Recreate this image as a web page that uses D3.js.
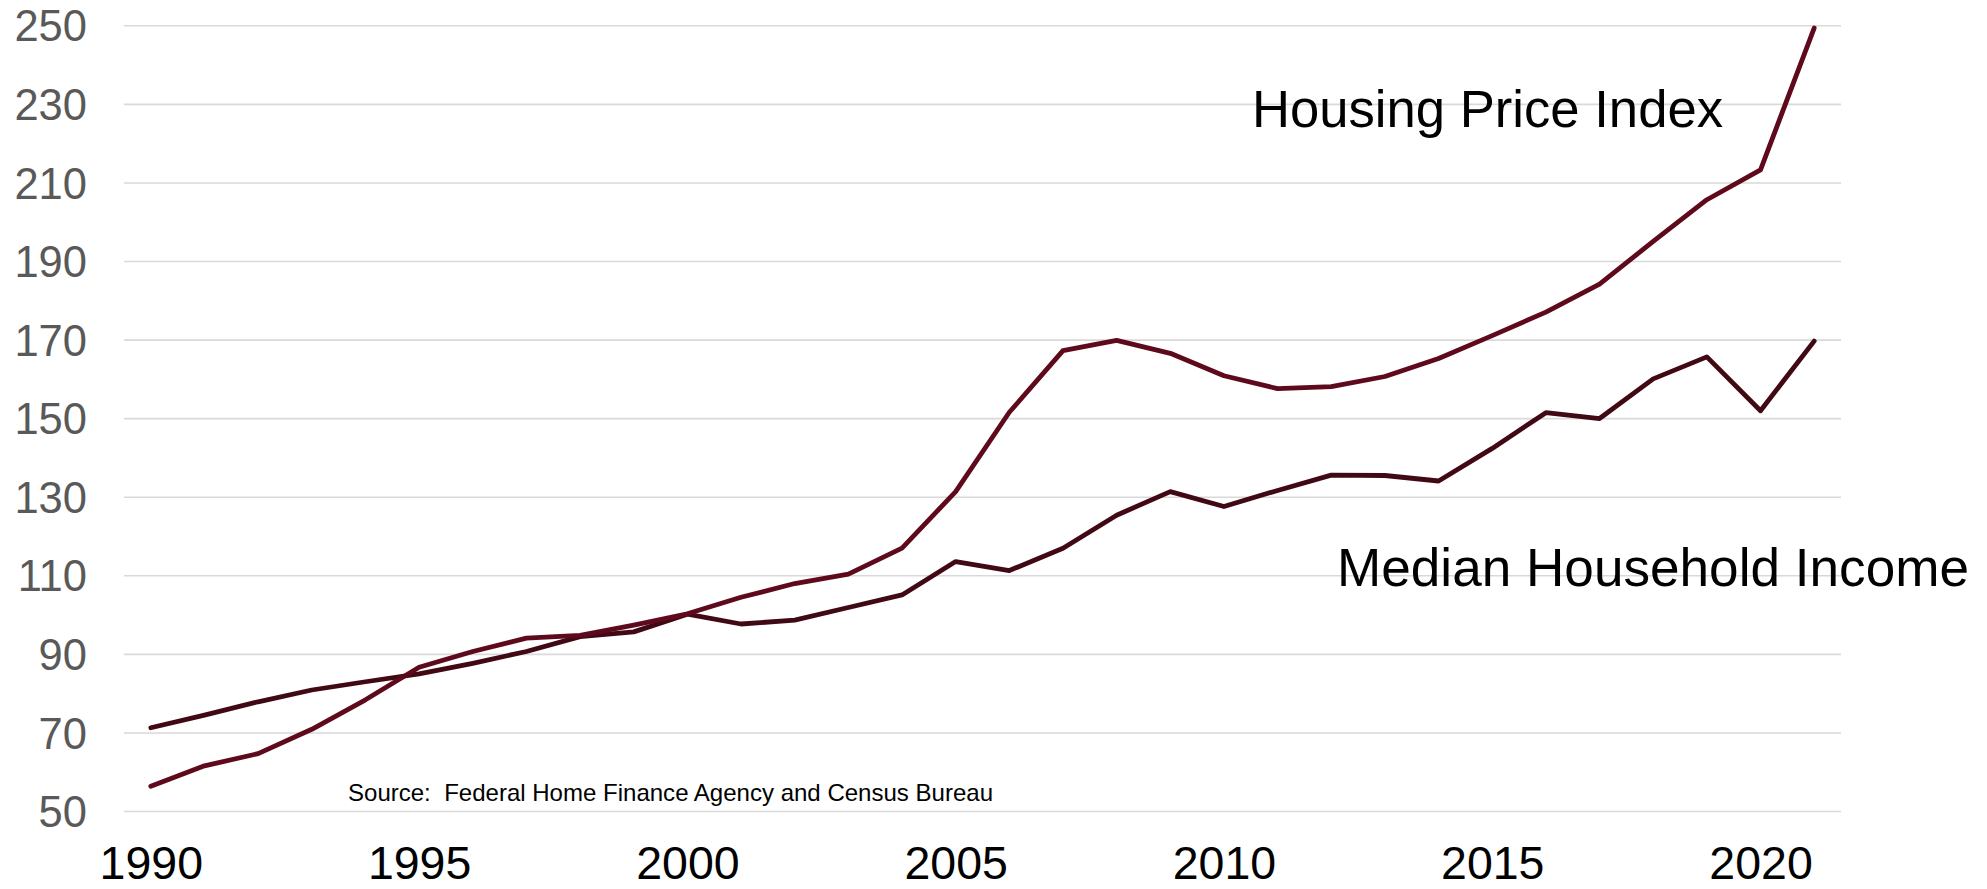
<!DOCTYPE html>
<html>
<head>
<meta charset="utf-8">
<script src="https://cdn.jsdelivr.net/npm/d3@7"></script>
<style>
  html, body { margin: 0; padding: 0; background: #ffffff; }
  svg { display: block; }
</style>
</head>
<body>
<svg id="chart" width="1987" height="889"></svg>
<script>
const years = d3.range(1990, 2022);
const housingPriceIndex = [56.3, 61.5, 64.6, 70.8, 78.3, 86.6, 90.6, 94.0, 94.7, 97.3, 100.2, 104.4, 107.9, 110.3, 116.9, 131.3, 151.5, 167.2, 169.8, 166.5, 160.8, 157.5, 158.0, 160.6, 165.2, 171.0, 177.0, 184.1, 195.0, 205.6, 213.2, 249.3];
const medianHouseholdIncome = [71.2, 74.4, 77.8, 80.8, 82.9, 84.9, 87.6, 90.6, 94.4, 95.6, 100.1, 97.6, 98.6, 101.8, 105.0, 113.5, 111.2, 116.9, 125.3, 131.3, 127.5, 131.6, 135.5, 135.4, 134.0, 142.3, 151.4, 149.9, 160.0, 165.6, 151.9, 169.6];
const yTicks = [50, 70, 90, 110, 130, 150, 170, 190, 210, 230, 250];
const xTickYears = [1990, 1995, 2000, 2005, 2010, 2015, 2020];
const seriesLabels = ["Housing Price Index", "Median Household Income"];
const sourceText = "Source:  Federal Home Finance Agency and Census Bureau";

(function () {
const svg = d3.select("#chart");
const mLeft = 124, mRight = 1841, mTop = 25.3, mBottom = 811;

const x = d3.scalePoint().domain(years).range([mLeft, mRight]).padding(0.5);
const y = d3.scaleLinear().domain([50, 250]).range([mBottom, mTop]);

// gridlines
const grid = svg.append("g").attr("transform", `translate(${mLeft},0)`)
  .call(d3.axisLeft(y).tickValues(yTicks).tickSize(-(mRight - mLeft)).tickFormat(""));
grid.select(".domain").remove();
grid.selectAll(".tick line").attr("stroke", "#d9d9d9").attr("stroke-width", 1.6);

// y axis labels
const yAxis = svg.append("g").attr("transform", `translate(87,0)`)
  .call(d3.axisLeft(y).tickValues(yTicks).tickSize(0).tickPadding(0));
yAxis.select(".domain").remove();
yAxis.selectAll(".tick text")
  .attr("fill", "#595959")
  .attr("font-family", "Liberation Sans, Arial, sans-serif")
  .attr("font-size", 43.5)
  .attr("dy", "0.36em")
  .attr("text-anchor", "end");

// x axis labels
const xAxis = svg.append("g").attr("transform", `translate(0,${mBottom})`)
  .call(d3.axisBottom(x).tickValues(xTickYears).tickSize(0).tickPadding(0));
xAxis.select(".domain").remove();
xAxis.selectAll(".tick text")
  .attr("fill", "#000000")
  .attr("font-family", "Liberation Sans, Arial, sans-serif")
  .attr("font-size", 46.5)
  .attr("dy", null)
  .attr("y", 68);

// lines
const line = d3.line().x((d, i) => x(years[i])).y(d => y(d));
svg.append("path").datum(medianHouseholdIncome)
  .attr("d", line).attr("fill", "none")
  .attr("stroke", "#410914").attr("stroke-width", 4.8)
  .attr("stroke-linejoin", "round").attr("stroke-linecap", "round");
svg.append("path").datum(housingPriceIndex)
  .attr("d", line).attr("fill", "none")
  .attr("stroke", "#5e0a1c").attr("stroke-width", 4.8)
  .attr("stroke-linejoin", "round").attr("stroke-linecap", "round");

// series labels
svg.append("text").text(seriesLabels[0])
  .attr("x", 1252).attr("y", 127)
  .attr("font-family", "Liberation Sans, Arial, sans-serif")
  .attr("font-size", 51).attr("fill", "#000")
  .attr("textLength", 471).attr("lengthAdjust", "spacingAndGlyphs");
svg.append("text").text(seriesLabels[1])
  .attr("x", 1337).attr("y", 586)
  .attr("font-family", "Liberation Sans, Arial, sans-serif")
  .attr("font-size", 54).attr("fill", "#000")
  .attr("textLength", 632).attr("lengthAdjust", "spacingAndGlyphs");

// source
svg.append("text").text(sourceText)
  .attr("x", 348).attr("y", 801)
  .style("white-space", "pre")
  .attr("font-family", "Liberation Sans, Arial, sans-serif")
  .attr("font-size", 24).attr("fill", "#000")
  .attr("textLength", 645).attr("lengthAdjust", "spacingAndGlyphs");
})();
</script>
</body>
</html>
